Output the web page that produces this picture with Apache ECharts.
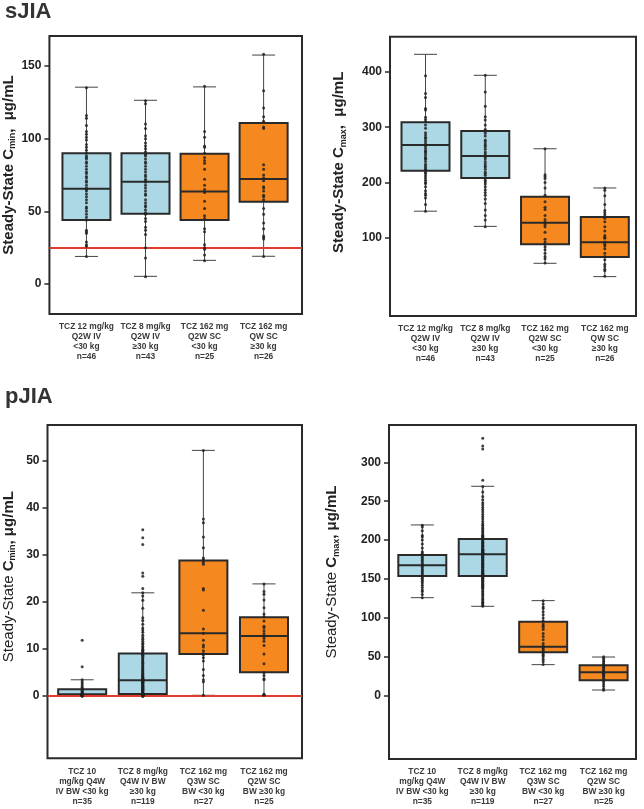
<!DOCTYPE html>
<html><head><meta charset="utf-8">
<script src="https://cdn.jsdelivr.net/npm/echarts@6/dist/echarts.min.js"></script>
<style>html,body{margin:0;padding:0;background:#fff}#c{width:644px;height:809px}</style>
</head><body><div id="c"></div>
<script>
// ---------------- DATA ----------------
const sjiaCategories = [
  "TCZ 12 mg/kg\nQ2W IV\n<30 kg\nn=46",
  "TCZ 8 mg/kg\nQ2W IV\n≥30 kg\nn=43",
  "TCZ 162 mg\nQ2W SC\n<30 kg\nn=25",
  "TCZ 162 mg\nQW SC\n≥30 kg\nn=26"
];
const pjiaCategories = [
  "TCZ 10\nmg/kg Q4W\nIV BW <30 kg\nn=35",
  "TCZ 8 mg/kg\nQ4W IV BW\n≥30 kg\nn=119",
  "TCZ 162 mg\nQ3W SC\nBW <30 kg\nn=27",
  "TCZ 162 mg\nQ2W SC\nBW ≥30 kg\nn=25"
];
// box stats: [whisker low, Q1, median, Q3, whisker high]
const sjiaCminStats = [[19, 44, 65.5, 90, 135.4],[5.3, 48.3, 70.3, 90, 126.4],[16.3, 44, 63.7, 89.7, 135.6],[19.1, 56.6, 72.2, 110.8, 157.5]];
const sjiaCmaxStats = [[148, 221, 268, 309, 432],[120.5, 208, 248, 293, 394],[53.6, 88, 127, 174, 261],[29.5, 65, 91.6, 137.3, 190]];
const pjiaCminStats = [[0, 0.15, 0.3, 1.4, 3.4],[0, 0.4, 3.3, 9.0, 21.9],[0.1, 8.9, 13.3, 28.8, 52.2],[0, 5.0, 12.7, 16.7, 23.8]];
const pjiaCmaxStats = [[126, 153.9, 167.6, 180.9, 219.5],[114.9, 153.9, 181.7, 201.5, 269.2],[39.9, 55.7, 63, 95.2, 122.2],[7.3, 19.7, 30, 39, 49.7]];

// individual observations
const sjiaCminG1 = [135,116,114,109,105,103,101,99,96,94,92,90,88,87,86,84,83,81,79,77,76,74,73,71,70,68,66,65,64,62,60,58,56,53,52,50,48,46,44,37,36,35,29,27,26,19];
const sjiaCminG2 = [126,124,110,107,102,100,97,95,93,91,89,88,86,84,83,81,79,77,75,74,72,71,70,68,66,64,62,61,58,56,54,53,51,49,48,45,43,39,37,34,25,18,5];
const sjiaCminG3 = [136,105,101,95,94,90,87,85,83,79,72,68,65,63,57,52,47,45,38,36,27,25,24,20,16];
const sjiaCminG4 = [158,133,121,115,112,108,107,82,79,75,73,71,67,66,64,61,60,58,52,48,42,38,33,32,31,19];

const sjiaCmaxG1 = [393,361,354,334,331,318,314,310,304,298,290,286,282,280,276,272,268,266,262,258,256,254,250,246,244,242,238,233,230,227,224,222,218,216,212,208,204,200,198,192,185,180,177,172,160,148];
const sjiaCmaxG2 = [394,364,338,319,313,304,296,293,289,284,277,274,270,267,264,260,255,252,248,246,243,238,234,230,228,224,219,216,213,208,204,201,197,192,187,182,177,170,162,150,140,132,120];
const sjiaCmaxG3 = [261,214,211,207,200,190,177,165,155,151,140,133,128,124,120,110,97,92,88,83,78,72,66,62,54];
const sjiaCmaxG4 = [190,186,176,160,149,145,141,135,129,120,112,104,101,99,92,88,85,80,72,66,60,52,48,43,40,30];

const pjiaCminG1 = [11.8,6.2,3.4,3.0,2.6,2.2,1.8,1.5,1.3,1.1,0.9,0.8,0.6,0.5,0.4,0.3,0.3,0.2,0.2,0.2,0.1,0.1,0.1,0.1,0.1,0,0,0,0,0,0,0,0,0,0];
const pjiaCminG2 = [35.3,33.6,32.2,26.1,25.4,22.8,21.9,21.2,20.3,18.6,16.6,16.0,15.2,14.4,14.0,13.5,12.9,12.4,12.0,11.6,11.2,10.9,10.5,10.2,9.9,9.7,9.5,9.3,9.1,9.0,
  8.8,8.6,8.4,8.1,7.9,7.6,7.4,7.1,6.9,6.6,6.4,6.1,5.9,5.7,5.5,5.3,5.1,4.9,4.7,4.5,4.4,4.2,4.1,3.9,3.8,3.7,3.6,3.5,3.4,3.3,
  3.2,3.1,3.0,2.9,2.8,2.7,2.6,2.5,2.4,2.3,2.2,2.1,2.0,1.9,1.8,1.7,1.6,1.5,1.4,1.3,1.2,1.1,1.0,0.9,0.8,0.7,0.6,0.5,0.5,0.4,
  0.4,0.3,0.3,0.3,0.2,0.2,0.2,0.2,0.1,0.1,0.1,0.1,0.1,0.1,0,0,0,0,0,0,0,0,0,0,0,0,0,0,0];
const pjiaCminG3 = [52.2,37.6,36.8,33.8,31.5,29.3,29.0,28.4,28.0,22.8,22.5,18.2,14.2,13.3,11.8,10.8,10.4,9.6,9.0,8.7,8.1,7.4,5.6,4.3,3.4,3.0,0.1];
const pjiaCminG4 = [23.8,22.2,21.6,20.4,18.7,17.4,16.8,15.9,14.8,14.4,13.8,13.2,12.6,12.2,11.6,10.7,8.9,6.8,4.9,4.3,3.6,3.4,0.3,0.2,0.1];

const pjiaCmaxG1 = [219,217,212,206,204,200,195,190,185,183,180,178,176,174,172,170,168,167,165,163,161,159,157,155,153,151,149,147,145,142,139,136,134,130,126];
const pjiaCmaxG2 = [331,321,317,277,269,262,256,252,248,245,242,239,236,233,230,227,224,221,219,217,215,213,211,209,207,206,205,204,203,202,
  201,200,199,198,197,196,195,194,193,192,191,190,189,188,188,187,187,186,186,185,185,184,184,183,183,183,182,182,182,182,
  181,180,179,178,177,176,175,174,173,172,171,170,169,168,167,166,165,164,163,162,161,160,159,158,157,157,156,155,155,154,
  153,152,151,150,149,148,147,146,145,144,143,142,141,140,139,138,136,134,132,130,128,126,124,122,120,119,118,116,115];
const pjiaCmaxG3 = [122,118,114,112,108,104,100,96,92,90,88,85,80,76,72,67,64,62,60,58,56,54,52,50,47,44,40];
const pjiaCmaxG4 = [50,48,46,44,42,40,39,38,37,35,33,32,30,29,28,27,26,24,22,20,18,15,12,9,7];

const sjiaCminTicks = [0, 50, 100, 150];
const sjiaCmaxTicks = [100, 200, 300, 400];
const pjiaCminTicks = [0, 10, 20, 30, 40, 50];
const pjiaCmaxTicks = [0, 50, 100, 150, 200, 250, 300];
const sjiaCminRef = 25;
const pjiaCminRef = 0;

// ---------------- STYLE / LAYOUT ----------------
const FONT = '"Liberation Sans", Arial, sans-serif';
const fills = ['#acd8e6', '#acd8e6', '#f5891f', '#f5891f'];
const INK = '#2a2a2a';

const panels = [
  {grid:{left:45, top:36, width:257, height:278}, xr:[0.373,4.65], yr:[-20.6,170.6], cats:sjiaCategories, stats:sjiaCminStats,
   pts:[sjiaCminG1,sjiaCminG2,sjiaCminG3,sjiaCminG4], ticks:sjiaCminTicks, ref:sjiaCminRef, sub:'min', allBold:true, gap:29, lift:20},
  {grid:{left:390, top:36.7, width:246, height:279.3}, xr:[0.406,4.522], yr:[-41.8,463.9], cats:sjiaCategories, stats:sjiaCmaxStats,
   pts:[sjiaCmaxG1,sjiaCmaxG2,sjiaCmaxG3,sjiaCmaxG4], ticks:sjiaCmaxTicks, ref:null, sub:'max', allBold:true, gap:42, lift:28},
  {grid:{left:45, top:425, width:257, height:333.3}, xr:[0.428,4.627], yr:[-13.3,57.6], cats:pjiaCategories, stats:pjiaCminStats,
   pts:[pjiaCminG1,pjiaCminG2,pjiaCminG3,pjiaCminG4], ticks:pjiaCminTicks, ref:pjiaCminRef, sub:'min', allBold:false, gap:30, lift:30},
  {grid:{left:389, top:425, width:247, height:334}, xr:[0.449,4.536], yr:[-81.4,348], cats:pjiaCategories, stats:pjiaCmaxStats,
   pts:[pjiaCmaxG1,pjiaCmaxG2,pjiaCmaxG3,pjiaCmaxG4], ticks:pjiaCmaxTicks, ref:null, sub:'max', allBold:false, gap:48, lift:40}
];

const grids = [], xAxes = [], yAxes = [], series = [];
panels.forEach((p, k) => {
  grids.push(Object.assign({show:true, borderColor:INK, borderWidth:2, backgroundColor:'#fff'}, p.grid));
  const cats = p.cats;
  xAxes.push({
    type:'value', gridIndex:k, min:p.xr[0], max:p.xr[1],
    axisLine:{show:false}, axisTick:{show:false}, splitLine:{show:false},
    axisLabel:{
      customValues:[1,2,3,4], margin:8,
      formatter:(v)=>cats[Math.round(v)-1] || '',
      fontFamily:FONT, fontWeight:'bold', fontSize:8.4, lineHeight:10, color:'#3a3a3a', align:'center'
    }
  });
  yAxes.push({
    type:'value', gridIndex:k, min:p.yr[0], max:p.yr[1],
    axisLine:{show:false}, splitLine:{show:false},
    axisTick:{show:true, customValues:p.ticks, length:5, lineStyle:{color:INK, width:1.5}},
    axisLabel:{customValues:p.ticks, margin:8, fontFamily:FONT, fontWeight:'bold', fontSize:12, color:'#222'},
    name: p.allBold ? '{b|Steady-State C}{s|' + p.sub + '}{b|,  μg/mL}' : '{r|Steady-State }{b|C}{s|' + p.sub + '}{b|, μg/mL}',
    nameLocation:'middle', nameGap:p.gap, nameRotate:90,
    nameTextStyle:{
      fontFamily:FONT, color:'#222', padding:[0, 0, 0, p.lift],
      rich:{
        b:{fontFamily:FONT, fontWeight:'bold', fontSize:15, lineHeight:18, color:'#222'},
        r:{fontFamily:FONT, fontWeight:'normal', fontSize:15, lineHeight:18, color:'#222'},
        s:{fontFamily:FONT, fontWeight:'bold', fontSize:9, lineHeight:10, verticalAlign:'bottom', color:'#222'}
      }
    }
  });
  const boxData = p.stats.map((s, i) => [i + 1].concat(s));
  const boxSeries = {
    type:'custom', xAxisIndex:k, yAxisIndex:k, z:2,
    encode:{x:0, y:[1,2,3,4,5]},
    data:boxData,
    renderItem:(params, api) => {
      const x = api.value(0);
      const lo = api.coord([x, api.value(1)]);
      const q1 = api.coord([x, api.value(2)]);
      const md = api.coord([x, api.value(3)]);
      const q3 = api.coord([x, api.value(4)]);
      const hi = api.coord([x, api.value(5)]);
      const cx = lo[0], bw = 48, cw = 23;
      const ws = {stroke:'#444', lineWidth:1};
      return {type:'group', children:[
        {type:'line', shape:{x1:cx, y1:lo[1], x2:cx, y2:hi[1]}, style:ws},
        {type:'line', shape:{x1:cx-cw/2, y1:lo[1], x2:cx+cw/2, y2:lo[1]}, style:ws},
        {type:'line', shape:{x1:cx-cw/2, y1:hi[1], x2:cx+cw/2, y2:hi[1]}, style:ws},
        {type:'rect', shape:{x:cx-bw/2, y:q3[1], width:bw, height:q1[1]-q3[1]},
          style:{fill:fills[params.dataIndex], stroke:INK, lineWidth:2}},
        {type:'line', shape:{x1:cx-bw/2, y1:md[1], x2:cx+bw/2, y2:md[1]}, style:{stroke:INK, lineWidth:2}}
      ]};
    }
  };
  if (p.ref !== null) {
    boxSeries.markLine = {silent:true, symbol:'none', label:{show:false}, animation:false,
      lineStyle:{color:'#e23b2e', width:2, type:'solid'}, data:[{yAxis:p.ref}]};
  }
  series.push(boxSeries);
  const pts = [];
  p.pts.forEach((arr, i) => arr.forEach(v => pts.push([i + 1, v])));
  series.push({type:'scatter', xAxisIndex:k, yAxisIndex:k, z:5, data:pts, symbolSize:3,
    itemStyle:{color:'#222', opacity:0.85}, silent:true});
});

const chart = echarts.init(document.getElementById('c'), null, {renderer:'canvas'});
chart.setOption({
  animation:false,
  backgroundColor:'#fff',
  title:[
    {text:'sJIA', left:5, top:1, padding:0, textStyle:{fontFamily:FONT, fontWeight:'bold', fontSize:22, color:'#333'}},
    {text:'pJIA', left:5, top:386, padding:0, textStyle:{fontFamily:FONT, fontWeight:'bold', fontSize:22, color:'#333'}}
  ],
  grid:grids, xAxis:xAxes, yAxis:yAxes, series:series
});
</script></body></html>
